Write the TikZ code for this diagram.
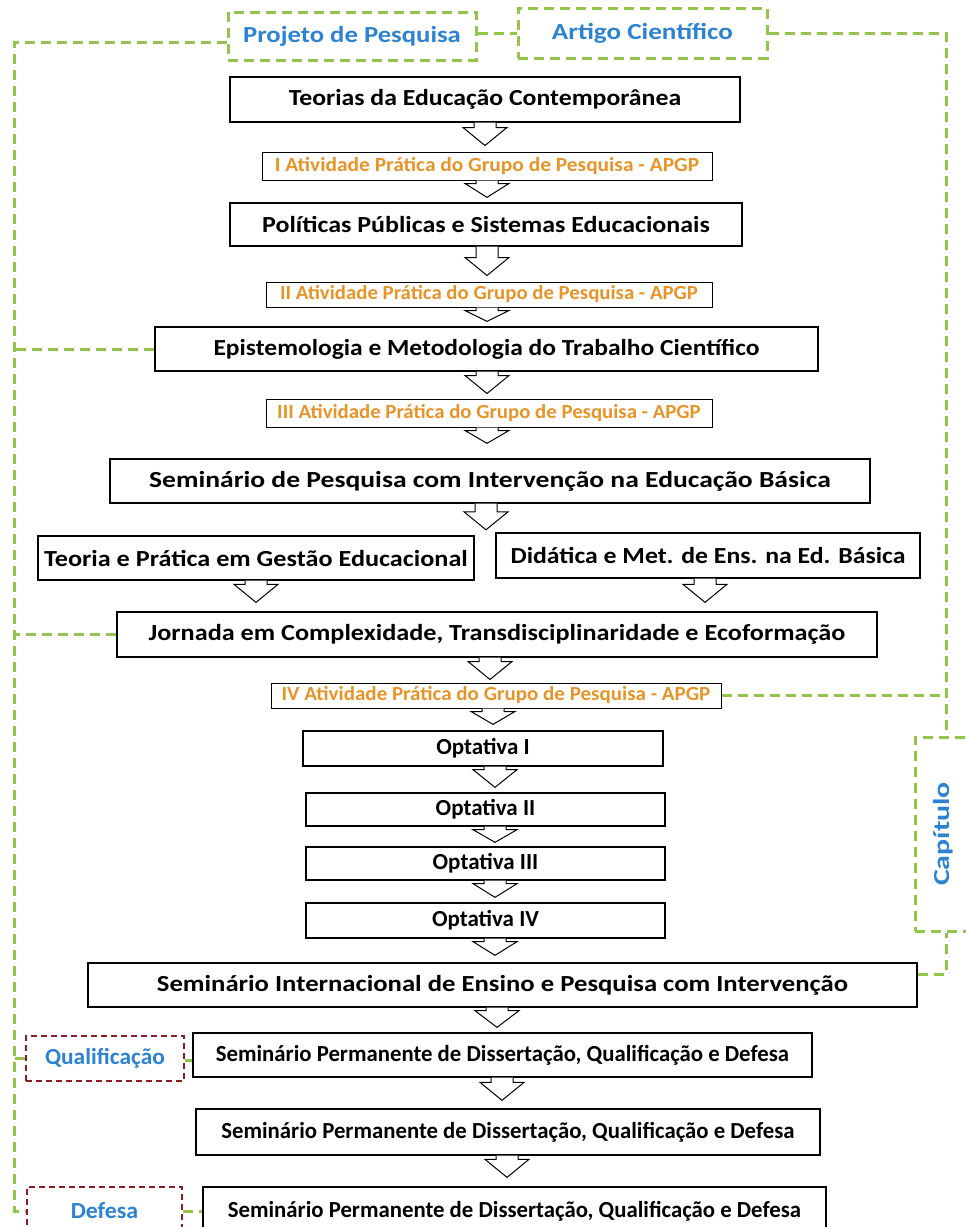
\documentclass[tikz,border=0pt]{standalone}
\usepackage{fontspec}
\setmainfont{Carlito}
\usetikzlibrary{calc}
\definecolor{gr}{RGB}{146,197,74}
\definecolor{dred}{RGB}{140,28,38}
\definecolor{bl}{RGB}{45,130,210}
\definecolor{og}{RGB}{230,148,40}
\newcommand{\sx}[2]{\scalebox{#1}[1]{#2}}
\tikzset{
  mbox/.style={draw=black, line width=1.3pt, fill=white, inner sep=0pt,
    font=\bfseries\fontsize{23}{27}\selectfont},
  obox/.style={draw=black, line width=1pt, fill=white, inner sep=0pt, text=og,
    font=\bfseries\fontsize{20}{24}\selectfont},
  gbox/.style={draw=gr, line width=3pt, dash pattern=on 10pt off 6pt, inner sep=0pt,
    text=bl, font=\bfseries\fontsize{23}{27}\selectfont},
  rbox/.style={draw=dred, line width=2.2pt, dash pattern=on 6pt off 4pt, inner sep=0pt,
    text=bl, font=\bfseries\fontsize{23}{27}\selectfont},
  gline/.style={draw=gr, line width=3pt, dash pattern=on 10pt off 6pt},
  barr/.style={draw=black, line width=1pt, fill=white, line join=miter},
}
\newcommand{\darr}[4]{%
  \draw[barr] let \p1=(#1.south), \p2=(#2.north) in
    ({#3pt-11pt},\y1) -- ({#3pt-11pt},{min(\y2+#4pt+18pt,\y1-3pt)})
    -- ({#3pt-22pt},{min(\y2+#4pt+18pt,\y1-3pt)}) -- ({#3pt},{\y2+#4pt})
    -- ({#3pt+22pt},{min(\y2+#4pt+18pt,\y1-3pt)}) -- ({#3pt+11pt},{min(\y2+#4pt+18pt,\y1-3pt)})
    -- ({#3pt+11pt},\y1);}
\begin{document}
\begin{tikzpicture}[x=1pt,y=-1pt]
\useasboundingbox (0,0) rectangle (966,1227);
\fill[white] (0,0) rectangle (966,1227);
\clip (0,0) rectangle (966,1227);

% label boxes
\node[gbox, minimum width=248, minimum height=48] (proj) at (352,36) {\sx{1.16}{Projeto de Pesquisa}};
\node[gbox, minimum width=249, minimum height=50] (art) at (642.5,33) {\sx{1.18}{Artigo Científico}};
\node[gbox, minimum width=56, minimum height=194] (cap) at (943,834) {\rotatebox{90}{\sx{1.3}{Capítulo}}};
\node[rbox, minimum width=158, minimum height=45] (qual) at (105,1058.5) {\sx{1.02}{Qualificação}};
\node[rbox, minimum width=155, minimum height=48] (def) at (104.5,1211) {\sx{1.04}{Defesa}};

% main chain
\node[mbox, minimum width=510, minimum height=45] (teo) at (485,99.5) {\sx{1.12}{Teorias da Educação Contemporânea}};
\node[obox, minimum width=450, minimum height=28] (ap1) at (487,166) {\sx{1.07}{I Atividade Prática do Grupo de Pesquisa - APGP}};
\node[mbox, minimum width=512, minimum height=43] (pol) at (486,224.5) {\sx{1.13}{Políticas Públicas e Sistemas Educacionais}};
\node[obox, minimum width=446, minimum height=25] (ap2) at (489,294.5) {\sx{1.04}{II Atividade Prática do Grupo de Pesquisa - APGP}};
\node[mbox, minimum width=663, minimum height=44] (epi) at (486.5,349) {\sx{1.11}{Epistemologia e Metodologia do Trabalho Científico}};
\node[obox, minimum width=446, minimum height=28] (ap3) at (489,413) {\sx{1.04}{III Atividade Prática do Grupo de Pesquisa - APGP}};
\node[mbox, minimum width=760, minimum height=44] (sem) at (490,481) {\sx{1.2}{Seminário de Pesquisa com Intervenção na Educação Básica}};
\node[inner sep=0pt, minimum size=0pt] (gap) at (486,530) {};
\node[mbox, minimum width=436, minimum height=44] (tp) at (256,558) {\sx{1.14}{Teoria e Prática em Gestão Educacional}};
\node[mbox, minimum width=424, minimum height=45] (did) at (708,555.5) {\sx{1.12}{Didática e Met. de Ens. na Ed. Básica}};
\node[mbox, minimum width=760, minimum height=45] (jor) at (497,634.5) {\sx{1.14}{Jornada em Complexidade, Transdisciplinaridade e Ecoformação}};
\node[obox, minimum width=450, minimum height=25] (ap4) at (496,695.5) {\sx{1.05}{IV Atividade Prática do Grupo de Pesquisa - APGP}};
\node[mbox, minimum width=360, minimum height=35] (op1) at (483,748.5) {Optativa I};
\node[mbox, minimum width=359, minimum height=33] (op2) at (485.5,809.5) {Optativa II};
\node[mbox, minimum width=359, minimum height=33] (op3) at (485.5,863.5) {Optativa III};
\node[mbox, minimum width=359, minimum height=35] (op4) at (485.5,920.5) {Optativa IV};
\node[mbox, minimum width=829, minimum height=44] (sint) at (502.5,985) {\sx{1.16}{Seminário Internacional de Ensino e Pesquisa com Intervenção}};
\node[mbox, minimum width=619, minimum height=44] (sp1) at (502.5,1055) {\sx{0.99}{Seminário Permanente de Dissertação, Qualificação e Defesa}};
\node[mbox, minimum width=624, minimum height=46] (sp2) at (508,1132) {\sx{0.99}{Seminário Permanente de Dissertação, Qualificação e Defesa}};
\node[mbox, minimum width=623, minimum height=48] (sp3) at (514.5,1211) {\sx{0.99}{Seminário Permanente de Dissertação, Qualificação e Defesa}};

% block arrows
\darr{teo}{ap1}{485}{6}
\darr{ap1}{pol}{487}{5}
\darr{pol}{ap2}{487}{6}
\darr{ap2}{epi}{487}{5}
\darr{epi}{ap3}{487}{5}
\darr{ap3}{sem}{487}{15}
\darr{sem}{gap}{486}{0}
\darr{tp}{jor}{256}{9}
\darr{did}{jor}{705}{9}
\darr{jor}{ap4}{490}{3}
\darr{ap4}{op1}{493}{6}
\darr{op1}{op2}{495}{5}
\darr{op2}{op3}{495}{4}
\darr{op3}{op4}{495}{5}
\darr{op4}{sint}{495}{7}
\darr{sint}{sp1}{497}{5}
\darr{sp1}{sp2}{502}{8}
\darr{sp2}{sp3}{507}{9}

% green dashed connectors
\coordinate (L) at (14,0);
\coordinate (R) at (946,0);
\draw[gline] ([yshift=-6pt]proj.west) -| (L |- def.west) -- (def.west);
\draw[gline] (epi.west) -- (epi.west -| L);
\draw[gline] (jor.west) -- (jor.west -| L);
\draw[gline] (qual.west) -- (qual.west -| L);
\draw[gline] ([yshift=-2pt]qual.east) -- ([yshift=-2pt]qual.east -| sp1.west);
\draw[gline] (def.east) -- (def.east -| sp3.west);
\draw[gline] (art.west -| proj.east) -- (art.west);
\draw[gline] (art.east) -| (R |- cap.north);
\draw[gline] (ap4.east) -- (ap4.east -| R);
\draw[gline] ([yshift=11pt]sint.east) -| (R |- cap.south);
\end{tikzpicture}
\end{document}
